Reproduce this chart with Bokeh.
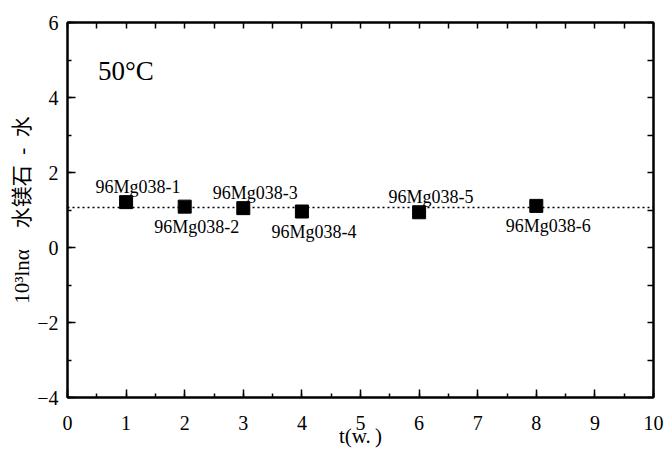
from bokeh.plotting import figure
from bokeh.models import Label, LinearAxis, Range1d, FixedTicker, Span, ColumnDataSource
from bokeh.core.properties import value
from bokeh.embed import file_html
from bokeh.resources import INLINE

# ---- data ----
t_weeks = [1, 2, 3, 4, 6, 8]
ln_alpha = [1.21, 1.09, 1.05, 0.96, 0.94, 1.11]
sample_names = ["96Mg038-1", "96Mg038-2", "96Mg038-3", "96Mg038-4", "96Mg038-5", "96Mg038-6"]
label_side = ["above", "below", "above", "below", "above", "below"]
mean_value = 1.07
x_ticks = [0, 1, 2, 3, 4, 5, 6, 7, 8, 9, 10]
x_minor = [i / 2 for i in range(0, 21)]
y_ticks = [-4, -2, 0, 2, 4, 6]
y_minor = [-4, -3, -2, -1, 0, 1, 2, 3, 4, 5, 6]
y_tick_labels = ["\u22124", "\u22122", "0", "2", "4", "6"]
temperature_text = "50\u00b0C"
x_title = "t(w.\u2009)"
y_title = "10\u00b3ln\u03b1\u3000水镁石\u2002-\u2002水"

SERIF = "Liberation Serif"
MIXED = "Liberation Serif, Noto Sans CJK SC"

p = figure(width=667, height=451, output_backend="svg", toolbar_location=None,
           x_range=Range1d(0, 10), y_range=Range1d(-4, 6),
           min_border_left=67, min_border_right=14, min_border_top=22, min_border_bottom=54)
p.background_fill_color = "white"
p.border_fill_color = "white"
p.outline_line_color = "black"
p.outline_line_width = 2
p.grid.visible = False


def style_axis(ax, ticks, minor):
    ax.ticker = FixedTicker(ticks=ticks, minor_ticks=minor)
    ax.axis_line_color = "black"
    ax.axis_line_width = 2
    ax.major_tick_in = 8
    ax.major_tick_out = 0
    ax.minor_tick_in = 4
    ax.minor_tick_out = 0
    ax.major_tick_line_width = 1.5
    ax.minor_tick_line_width = 1.5
    ax.major_tick_line_color = "black"
    ax.minor_tick_line_color = "black"
    ax.major_label_text_font = SERIF
    ax.major_label_text_font_size = "20px"
    ax.major_label_text_color = "black"


xa = p.xaxis[0]
style_axis(xa, x_ticks, x_minor)
xa.major_label_standoff = 18
xa.axis_label = x_title
xa.axis_label_text_font = SERIF
xa.axis_label_text_font_size = "21px"
xa.axis_label_text_font_style = "normal"
xa.axis_label_text_color = "black"
xa.axis_label_standoff = -9

ya = p.yaxis[0]
style_axis(ya, y_ticks, y_minor)
ya.major_label_overrides = {t: s for t, s in zip(y_ticks, y_tick_labels)}
ya.major_label_standoff = 9
ya.axis_label = y_title
ya.axis_label_text_font = MIXED
ya.axis_label_text_font_size = "21px"
ya.axis_label_text_font_style = "normal"
ya.axis_label_text_color = "black"
ya.axis_label_standoff = 0

# mirrored tick marks on top and right (no labels)
for side, minor in (("above", x_minor), ("right", y_minor)):
    ax = LinearAxis(ticker=FixedTicker(ticks=[], minor_ticks=minor))
    ax.axis_line_color = "black"
    ax.axis_line_width = 2
    ax.minor_tick_in = 6
    ax.minor_tick_out = 0
    ax.minor_tick_line_width = 1.5
    ax.minor_tick_line_color = "black"
    ax.major_label_standoff = 0
    p.add_layout(ax, side)

# reference dotted line
p.add_layout(Span(location=mean_value, dimension="width", line_color="black",
                  line_width=1.5, line_dash="2 3"))

# points
p.scatter(t_weeks, ln_alpha, marker="square", size=13, fill_color="black", line_color="black")

# sample labels
src = ColumnDataSource(dict(
    x=t_weeks, y=ln_alpha, name=sample_names,
    yoff=[-15 if s == "above" else 20 for s in label_side],
))
p.text(x="x", y="y", text="name", source=src, x_offset=12, y_offset="yoff",
       text_align="center", text_baseline="alphabetic",
       text_font=value(SERIF), text_font_size="18px", text_color="black")

# temperature annotation
p.add_layout(Label(x=0.52, y=4.72, text=temperature_text, text_font=SERIF,
                   text_font_size="27px", text_color="black",
                   text_align="left", text_baseline="alphabetic"))

open("out.html", "w").write(file_html(p, INLINE))
